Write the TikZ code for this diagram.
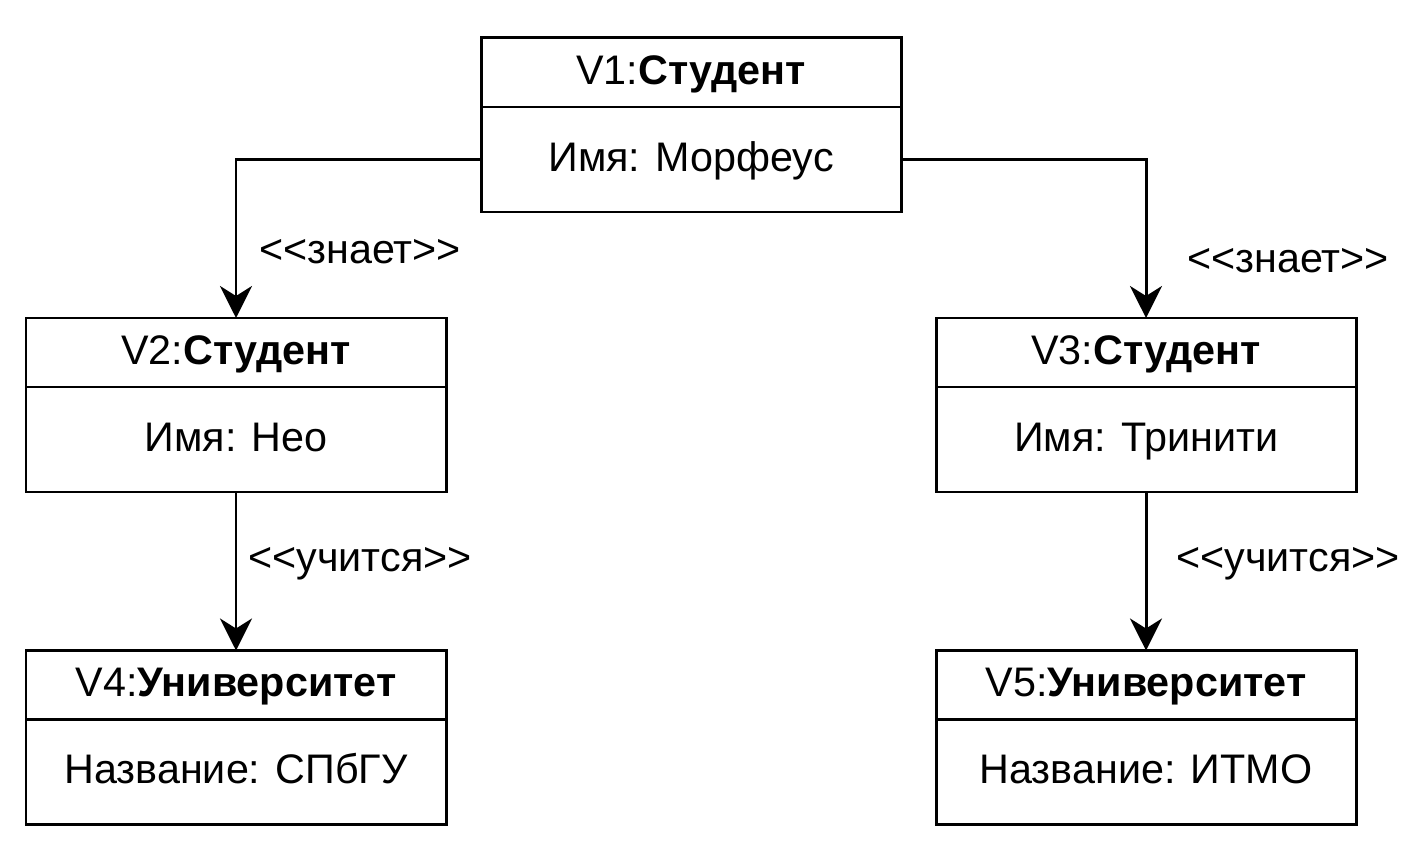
\documentclass[tikz,border=0pt]{standalone}
\usepackage{fontspec}
\setmainfont{Liberation Sans}[Ligatures=TeXOff]
\usetikzlibrary{positioning,arrows.meta}

\begin{document}
\begin{tikzpicture}[
	every node/.style={font=\fontsize{23.5}{28}\selectfont},
	objhead/.style={draw, line width=1.7pt, outer sep=0pt, inner sep=0pt,
		minimum width=8.4cm, minimum height=1.38cm, text height=16.8pt, text depth=3.4pt},
	objbody/.style={objhead, minimum height=2.1cm},
	link/.style={line width=1.7pt, -{Stealth[length=0.64cm, width=0.64cm, inset=0.2cm]}},
	stereo/.style={inner sep=0pt}
]

	\useasboundingbox (0,0) rectangle (28.12,-17.36);

		\node[objhead] (v1head) at (13.82,-1.45) {V1:\textbf{Студент}};
		\node[objbody, below=0pt of v1head] (v1body) {Имя: Морфеус};

	\begin{scope}
		\node[objhead] (v2head) at (4.72,-7.05) {V2:\textbf{Студент}};
		\node[objbody, below=0pt of v2head] (v2body) {Имя: Нео};

		\node[objhead] (v4head) at (4.72,-13.7) {V4:\textbf{Университет}};
		\node[objbody, below=0pt of v4head] (v4body) {Название: СПбГУ};
	\end{scope}

	\begin{scope}
		\node[objhead] (v3head) at (22.92,-7.05) {V3:\textbf{Студент}};
		\node[objbody, below=0pt of v3head] (v3body) {Имя: Тринити};

		\node[objhead] (v5head) at (22.92,-13.7) {V5:\textbf{Университет}};
		\node[objbody, below=0pt of v5head] (v5body) {Название: ИТМО};
	\end{scope}

	% links
	\draw[link] (v1body.west) -| node[stereo, pos=0.79, xshift=2.48cm] {<<знает>>} (v2head.north);
	\draw[link] (v1body.east) -| node[stereo, pos=0.82, xshift=2.84cm] {<<знает>>} (v3head.north);
	\draw[link] (v2body.south) -- node[stereo, pos=0.45, xshift=2.48cm] {<<учится>>} (v4head.north);
	\draw[link] (v3body.south) -- node[stereo, pos=0.45, xshift=2.84cm] {<<учится>>} (v5head.north);

\end{tikzpicture}
\end{document}
